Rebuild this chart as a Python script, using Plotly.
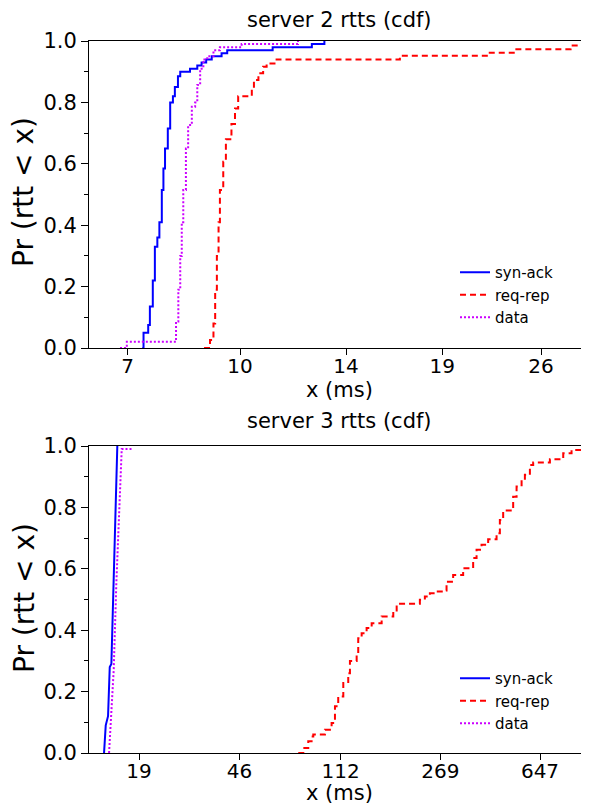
import math
import plotly.graph_objects as go

# ---------------- data ----------------
# server 2 (top panel)
s2_synack_x = [7.33, 7.36, 7.47, 7.51, 7.58, 7.63, 7.69, 7.74, 7.80, 7.84, 7.88, 7.95, 8.01,
               8.08, 8.13, 8.21, 8.27, 8.53, 8.73, 8.85, 8.98, 9.14, 9.43, 9.60, 11.09, 12.56, 13.07]
s2_synack_y = [0.0, 0.05, 0.075, 0.135, 0.22, 0.33, 0.36, 0.41, 0.515, 0.585, 0.65, 0.715, 0.80,
               0.82, 0.85, 0.885, 0.90, 0.91, 0.92, 0.93, 0.94, 0.95, 0.96, 0.97, 0.98, 0.99, 1.0]

s2_reqrep_x = [8.92, 9.09, 9.19, 9.24, 9.29, 9.34, 9.38, 9.48, 9.56, 9.73, 9.84, 9.94, 10.38,
               10.45, 10.60, 10.76, 10.88, 11.23, 16.61, 21.99, 23.93, 28.56, 35.0]
s2_reqrep_y = [0.0, 0.026, 0.08, 0.19, 0.30, 0.41, 0.515, 0.607, 0.68, 0.73, 0.78, 0.82, 0.846,
               0.873, 0.895, 0.916, 0.927, 0.94, 0.952, 0.962, 0.973, 0.985, 1.0]

s2_data_x = [6.83, 6.98, 8.16, 8.22, 8.27, 8.31, 8.35, 8.42, 8.48, 8.58, 8.67, 8.73, 8.81,
             8.90, 9.01, 9.19, 9.38, 10.05, 12.02]
s2_data_y = [0.0, 0.02, 0.086, 0.19, 0.30, 0.41, 0.515, 0.65, 0.726, 0.786, 0.80, 0.857, 0.91,
             0.94, 0.95, 0.97, 0.98, 0.99, 1.0]

# server 3 (bottom panel)
s3_synack_x = [13.96, 14.17, 14.46, 14.68, 14.89, 15.69]
s3_synack_y = [0.0, 0.09, 0.12, 0.28, 0.29, 1.0]

s3_reqrep_x = [77.1, 80.6, 84.2, 86.7, 88.0, 97.5, 103.4, 106.5, 109.6, 114.6, 119.7, 121.5,
               128.9, 130.7, 134.7, 140.7, 147.1, 160.6, 177.9, 183.3, 224.8, 234.9, 245.5,
               260.4, 275.9, 284.3, 301.3, 329.0, 359.3, 370.2, 386.8, 410.0, 441.5, 454.5,
               467.9, 510.9, 526.5, 550.2, 566.4, 591.9, 609.3, 705.9, 793.7, 854.0, 1100.0]
s3_reqrep_y = [0.0, 0.016, 0.038, 0.054, 0.06, 0.076, 0.098, 0.152, 0.184, 0.228, 0.26, 0.30,
               0.325, 0.374, 0.39, 0.407, 0.423, 0.445, 0.461, 0.486, 0.499, 0.51, 0.52,
               0.526, 0.529, 0.558, 0.58, 0.602, 0.635, 0.662, 0.678, 0.696, 0.716, 0.759,
               0.79, 0.835, 0.868, 0.89, 0.906, 0.938, 0.946, 0.957, 0.976, 0.987, 1.0]

s3_data_x = [14.59, 14.80, 15.20, 15.55, 15.95, 16.31, 18.06]
s3_data_y = [0.0, 0.10, 0.27, 0.55, 0.77, 0.99, 0.99]

top_ticks = [7, 10, 14, 19, 26]
bottom_ticks = [19, 46, 112, 269, 647]
series_names = ["syn-ack", "req-rep", "data"]
titles = ["server 2 rtts (cdf)", "server 3 rtts (cdf)"]
xlabel = "x (ms)"
ylabel = "Pr (rtt < x)"

# ---------------- styling ----------------
BLUE = "#0000ff"
RED = "#ff0000"
MAG = "#cc00ff"
FONT = "DejaVu Sans"

# the page body has an 8px margin, so the figure is drawn 8px in from the corner
OFF = 8
W, H = 589 - OFF, 804 - OFF
L = 89 - OFF            # left edge of plot area (figure px)
T = 41 - OFF            # top of upper panel
BOT = 753 - OFF         # bottom of lower panel
B = H - BOT
PW = W - L
PH = H - T - B


def py(p_ref):
    """reference-page y pixel -> paper fraction"""
    return 1 - (p_ref - OFF - T) / PH


def px(p_ref):
    """reference-page x pixel -> paper fraction"""
    return (p_ref - OFF - L) / PW


fig = go.Figure()


def add(x, y, name, color, dash, xa, ya, legend, shape):
    fig.add_trace(go.Scatter(
        x=x, y=y, name=name, mode="lines", line_shape=shape,
        line=dict(color=color, width=2, dash=dash),
        xaxis=xa, yaxis=ya, legend=legend))


add(s2_synack_x, s2_synack_y, series_names[0], BLUE, "solid", "x", "y", "legend", "hv")
add(s2_reqrep_x, s2_reqrep_y, series_names[1], RED, "6px,4px", "x", "y", "legend", "hv")
add(s2_data_x, s2_data_y, series_names[2], MAG, "2px,2px", "x", "y", "legend", "hv")
add(s3_synack_x, s3_synack_y, series_names[0], BLUE, "solid", "x2", "y2", "legend2", "linear")
add(s3_reqrep_x, s3_reqrep_y, series_names[1], RED, "6px,4px", "x2", "y2", "legend2", "hv")
add(s3_data_x, s3_data_y, series_names[2], MAG, "2px,2px", "x2", "y2", "legend2", "linear")


def xaxis(ticks, rng, anchor):
    return dict(type="log", range=[math.log10(rng[0]), math.log10(rng[1])],
                tickvals=ticks, ticktext=[str(t) for t in ticks],
                showline=True, linecolor="black", linewidth=1, mirror=True,
                ticks="outside", ticklen=6, tickcolor="black", showgrid=False,
                zeroline=False, anchor=anchor, ticklabelstandoff=-6,
                tickfont=dict(family=FONT, size=20, color="black"))


def yaxis(domain, anchor):
    return dict(domain=domain, range=[0, 1], tickvals=[0, 0.2, 0.4, 0.6, 0.8, 1.0],
                tickformat=".1f", showline=True, linecolor="black", linewidth=1,
                ticks="outside", ticklen=7, tickcolor="black", showgrid=False,
                zeroline=False, anchor=anchor,
                minor=dict(tickvals=[0.1, 0.3, 0.5, 0.7, 0.9], ticks="outside",
                           ticklen=4, tickcolor="black"),
                tickfont=dict(family=FONT, size=21, color="black"))


legend_style = dict(xanchor="left", yanchor="top",
                    font=dict(family=FONT, size=15, color="black"),
                    bgcolor="rgba(0,0,0,0)", itemwidth=30, tracegroupgap=0)

fig.update_layout(
    width=W, height=H,
    margin=dict(l=L, r=0, t=T, b=B),
    plot_bgcolor="white", paper_bgcolor="white",
    font=dict(family=FONT, color="black"),
    xaxis=xaxis(top_ticks, [6.19, 30.28], "y"),
    yaxis=yaxis([py(348), 1.0], "x"),
    xaxis2=xaxis(bottom_ticks, [12.23, 995.7], "y2"),
    yaxis2=yaxis([0.0, py(446)], "x2"),
    legend=dict(x=px(455), y=py(256), **legend_style),
    legend2=dict(x=px(455), y=py(662), **legend_style),
    showlegend=True,
)


def ann(text, xref_px, yref_px, size, angle=0):
    fig.add_annotation(text=text, xref="paper", yref="paper",
                       x=px(xref_px), y=py(yref_px), showarrow=False,
                       xanchor="center", yanchor="middle", textangle=angle,
                       font=dict(family=FONT, size=size, color="black"))


ann(titles[0], 339, 20, 21)
ann(titles[1], 339, 421, 21)
ann(xlabel, 339, 390, 21)
ann(xlabel, 339, 793, 21)
ann(ylabel, 24, 192, 28, -90)
ann(ylabel, 24, 598, 28, -90)

fig.write_html("out.html")
